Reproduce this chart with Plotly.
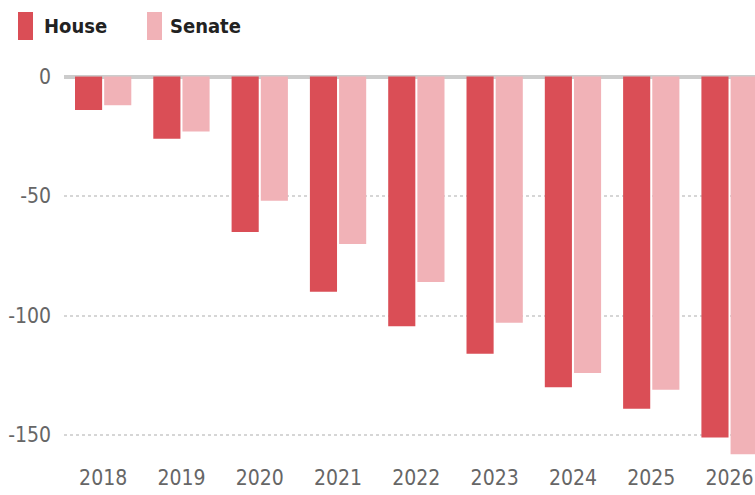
import plotly.graph_objects as go

years = ["2018", "2019", "2020", "2021", "2022", "2023", "2024", "2025", "2026"]
house = [-14, -26, -65, -90, -104.5, -116, -130, -139, -151]
senate = [-12, -23, -52, -70, -86, -103, -124, -131, -158]
y_ticks = [0, -50, -100, -150]
y_tick_text = ["0", "-50", "-100", "-150"]

HOUSE_C = "#da4e56"
SENATE_C = "#f1b2b7"
FONT = "DejaVu Sans Condensed, Liberation Sans Narrow, sans-serif"

fig = go.Figure()
fig.add_trace(go.Bar(name="House", x=years, y=house, marker_color=HOUSE_C,
                     marker_line_width=0, showlegend=False))
fig.add_trace(go.Bar(name="Senate", x=years, y=senate, marker_color=SENATE_C,
                     marker_line_width=0, showlegend=False))

fig.update_layout(
    width=755, height=495,
    margin=dict(l=64, r=0, t=67, b=36),
    paper_bgcolor="white", plot_bgcolor="white",
    barmode="group", bargap=0.255, bargroupgap=0.07,
    font=dict(family=FONT, color="#666666", size=21),
    xaxis=dict(type="category", range=[-0.5, 8.325], showgrid=False,
               showline=False, ticks="", tickfont=dict(size=21, color="#666666"),
               ticklabelstandoff=4),
    yaxis=dict(range=[-160, 4], tickvals=y_ticks, ticktext=y_tick_text,
               showgrid=True, gridcolor="#d6d6d6", gridwidth=2, griddash="dot",
               zeroline=True, zerolinecolor="#cccccc", zerolinewidth=4,
               showline=False, ticks="", ticklabelstandoff=12,
               tickfont=dict(size=21, color="#666666")),
)

# Legend drawn as shapes + text to match the tall swatches
fig.add_shape(type="rect", xref="paper", yref="paper",
              x0=(18 - 64) / 691, x1=(33 - 64) / 691,
              y0=(459 - 40) / 392, y1=(459 - 12) / 392,
              fillcolor=HOUSE_C, line_width=0)
fig.add_shape(type="rect", xref="paper", yref="paper",
              x0=(147 - 64) / 691, x1=(162 - 64) / 691,
              y0=(459 - 40) / 392, y1=(459 - 12) / 392,
              fillcolor=SENATE_C, line_width=0)
fig.add_annotation(text="<b>House</b>", xref="paper", yref="paper",
                   x=(42 - 64) / 691, y=(459 - 26) / 392, xanchor="left", yanchor="middle",
                   showarrow=False, font=dict(family=FONT, size=20, color="#222222"))
fig.add_annotation(text="<b>Senate</b>", xref="paper", yref="paper",
                   x=(168 - 64) / 691, y=(459 - 26) / 392, xanchor="left", yanchor="middle",
                   showarrow=False, font=dict(family=FONT, size=20, color="#222222"))

fig.write_html("out.html")
